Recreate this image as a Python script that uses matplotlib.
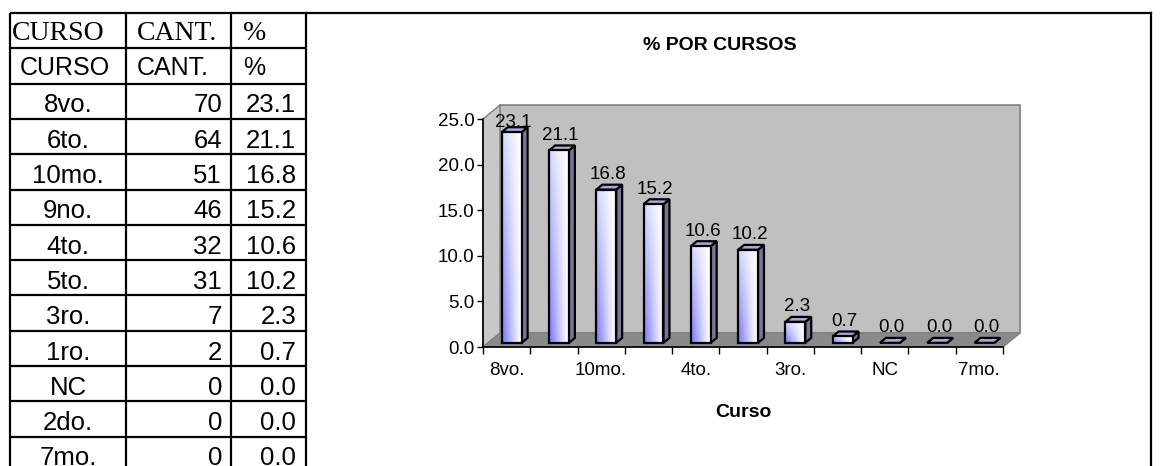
import numpy as np
import matplotlib
matplotlib.use('Agg')
import matplotlib.pyplot as plt
from matplotlib.patches import Polygon, Rectangle

# datos de la tabla
cursos = ['8vo.', '6to.', '10mo.', '9no.', '4to.', '5to.', '3ro.', '1ro.', 'NC', '2do.', '7mo.']
cantidades = [70, 64, 51, 46, 32, 31, 7, 2, 0, 0, 0]
porcentajes = [23.1, 21.1, 16.8, 15.2, 10.6, 10.2, 2.3, 0.7, 0.0, 0.0, 0.0]
encabezado = ['CURSO', 'CANT.', '%']
titulo = '% POR CURSOS'
eje_x = 'Curso'
y_ticks = [0, 5, 10, 15, 20, 25]

W, H = 1161, 466
fig = plt.figure(figsize=(W / 100, H / 100), dpi=100)
fig.patch.set_facecolor('white')

# capa de fondo en pixeles (tabla y marco)
bg = fig.add_axes([0, 0, 1, 1])
bg.set_xlim(0, W)
bg.set_ylim(H, 0)
bg.axis('off')

sans = 'Liberation Sans'
serif = 'Liberation Serif'

col_x = [10, 126, 231, 306]
row_h = 35.3
top = 13
n_rows = len(cursos) + 2
row_y = [top + row_h * k for k in range(n_rows + 1)]

lw = 1.6
for y in row_y:
    bg.plot([col_x[0], col_x[-1]], [y, y], color='black', lw=lw, solid_capstyle='butt')
for x in col_x:
    bg.plot([x, x], [top, H + 5], color='black', lw=lw, solid_capstyle='butt')
# marco del grafico
bg.plot([col_x[-1], 1151], [top, top], color='black', lw=lw)
bg.plot([1151, 1151], [top, H + 5], color='black', lw=lw)

# encabezados
for r, (fam, fs, off) in enumerate([(serif, 20, 8.5), (sans, 18, 9)]):
    base = row_y[r + 1] - off
    bg.text(col_x[0] + 2 + 8 * r, base, encabezado[0], family=fam, fontsize=fs, va='baseline')
    bg.text(col_x[1] + 11, base, encabezado[1], family=fam, fontsize=fs, va='baseline')
    bg.text(col_x[2] + 12, base, encabezado[2], family=fam, fontsize=fs, va='baseline')

# filas; la ultima queda cortada por el borde como en la hoja original
for k in range(len(cursos)):
    base = row_y[k + 3] - 6.5
    bg.text((col_x[0] + col_x[1]) / 2, base, cursos[k], family=sans, fontsize=18.5,
            ha='center', va='baseline')
    bg.text(col_x[2] - 9, base, str(cantidades[k]), family=sans, fontsize=18.5,
            ha='right', va='baseline')
    bg.text(col_x[3] - 10, base, f'{porcentajes[k]:.1f}', family=sans, fontsize=18.5,
            ha='right', va='baseline')

# grafico pseudo 3D
x0, x1, y0, y1 = 483, 1003, 347, 119
ax = fig.add_axes([x0 / W, (H - y0) / H, (x1 - x0) / W, (y0 - y1) / H])
n = len(cursos)
ymax = 25
dx = 17 / ((x1 - x0) / n)
dy = 14 / ((y0 - y1) / ymax)

ax.set_xlim(0, n)
ax.set_ylim(0, ymax)
ax.set_autoscale_on(False)
ax.patch.set_visible(False)
for s in ['top', 'right']:
    ax.spines[s].set_visible(False)
for s in ['left', 'bottom']:
    ax.spines[s].set_color('black')
    ax.spines[s].set_linewidth(1.2)
    ax.spines[s].set_zorder(6)

# paredes y piso
ax.add_patch(Polygon([(dx, dy), (n + dx, dy), (n + dx, ymax + dy), (dx, ymax + dy)],
                     closed=True, fc='#C0C0C0', ec='#808080', lw=1.2, clip_on=False, zorder=1))
ax.add_patch(Polygon([(0, 0), (dx, dy), (dx, ymax + dy), (0, ymax)],
                     closed=True, fc='#C8C8C8', ec='#808080', lw=1.0, clip_on=False, zorder=1))
ax.add_patch(Polygon([(0, 0), (n, 0), (n + dx, dy), (dx, dy)],
                     closed=True, fc='#8A8A8A', ec='#808080', lw=1.0, clip_on=False, zorder=2))

# degradado de la cara frontal
u = np.linspace(0, 1, 40)[None, :]
v = np.linspace(0, 1, 80)[:, None]
w = np.clip((1 - u) ** 1.2 * (1 - 0.7 * v), 0, 1)
blue = np.array([0.45, 0.45, 1.0])
grad = (1 - w[..., None]) * np.ones(3) + w[..., None] * blue

d0, d1 = 0.3, 0.65
a0, b0 = d0 * dx, d0 * dy
a1, b1 = d1 * dx, d1 * dy
for i, val in enumerate(porcentajes):
    xl, xr = i + 0.29, i + 0.71
    side = Polygon([(xr + a0, b0), (xr + a1, b1), (xr + a1, val + b1), (xr + a0, val + b0)],
                   closed=True, fc='#77779A', ec='black', lw=1.6, zorder=3, clip_on=False)
    topf = Polygon([(xl + a0, val + b0), (xr + a0, val + b0), (xr + a1, val + b1), (xl + a1, val + b1)],
                   closed=True, fc='#A9A9DA', ec='black', lw=1.6, zorder=3, clip_on=False)
    ax.add_patch(side)
    ax.add_patch(topf)
    if val > 0:
        front = Rectangle((xl + a0, b0), xr - xl, val, fc='none', ec='black', lw=1.6,
                          zorder=4, clip_on=False)
        im = ax.imshow(grad, extent=[xl + a0, xr + a0, b0, b0 + val], origin='lower',
                       aspect='auto', zorder=3.5, interpolation='bilinear')
        fill = Rectangle((xl + a0, b0), xr - xl, val, transform=ax.transData)
        im.set_clip_path(fill)
        ax.add_patch(front)
    # etiqueta de datos, limitada al techo del area de trazado
    ly = min(val + b1 + 0.6, ymax - 0.9)
    ax.text(i + 0.5 + 0.4 * dx, ly, f'{val:.1f}', family=sans, fontsize=13.5,
            ha='center', va='baseline', zorder=5)

ax.set_yticks(y_ticks)
ax.set_yticklabels([f'{t:.1f}' for t in y_ticks], family=sans, fontsize=13.5)
ax.set_xticks(np.arange(n + 1))
ax.set_xticklabels([])
ax.set_xticks(np.arange(0, n, 2) + 0.5, minor=True)
ax.set_xticklabels([cursos[k] for k in range(0, n, 2)], minor=True, family=sans, fontsize=13.5)
ax.tick_params(axis='x', which='major', direction='out', length=5, width=1.0, color='black')
ax.tick_params(axis='x', which='minor', length=0, pad=11)
ax.tick_params(axis='y', direction='out', length=4, width=1.0, pad=2)

ax.set_xlabel(eje_x, family=sans, fontsize=14, fontweight='bold', labelpad=18)

bg.text(720, 45, titulo, family=sans, fontsize=14, fontweight='bold', ha='center', va='center')

fig.savefig('out.png', dpi=100, facecolor='white')
